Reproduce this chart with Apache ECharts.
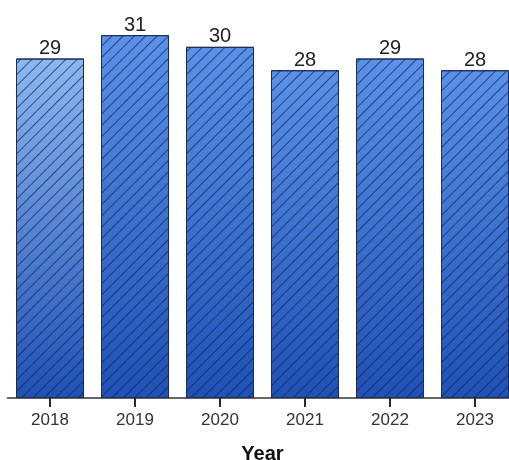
<!DOCTYPE html>
<html>
<head>
<meta charset="utf-8">
<style>
  html, body { margin: 0; padding: 0; background: #ffffff; }
  #chart { width: 509px; height: 460px; }
</style>
<script src="https://cdn.jsdelivr.net/npm/echarts@6/dist/echarts.min.js"></script>
</head>
<body>
<div id="chart"></div>
<script>
// Yearly values shown as hatched, gradient-filled bars
const years = ['2018', '2019', '2020', '2021', '2022', '2023'];
const values = [29, 31, 30, 28, 29, 28];
// top colour of each bar's vertical gradient
const topColors = ['#8db8f1', '#5b91e8', '#5b91e8', '#5b91e8', '#5b91e8', '#5b91e8'];
const bottomColor = '#1f51b6';

const chart = echarts.init(document.getElementById('chart'), null, { renderer: 'canvas' });

const barData = values.map((v, i) => ({
  value: v,
  itemStyle: {
    color: new echarts.graphic.LinearGradient(0, 0, 0, 1, [
      { offset: 0, color: topColors[i] },
      { offset: 1, color: bottomColor }
    ])
  }
}));

chart.setOption({
  animation: false,
  grid: {
    left: 7.5, width: 510, top: 0, height: 398,
    containLabel: false,
    outerBoundsMode: 'none'
  },
  xAxis: {
    type: 'category',
    data: years,
    name: 'Year',
    nameLocation: 'middle',
    nameGap: 46,
    nameTextStyle: { fontFamily: 'Liberation Sans', fontSize: 20, fontWeight: 'bold', color: '#111' },
    axisLine: { show: true, onZero: false, lineStyle: { color: '#333', width: 1.5 } },
    axisTick: {
      show: true, alignWithLabel: true, length: 9,
      lineStyle: { color: '#2a2a2a', width: 2, opacity: 1 }
    },
    axisLabel: { fontFamily: 'Liberation Sans', fontSize: 17, color: '#333', margin: 14 }
  },
  yAxis: {
    type: 'value',
    min: 0,
    max: 34,
    show: false
  },
  series: [{
    type: 'bar',
    data: barData,
    barCategoryGap: '20%',
    itemStyle: {
      borderColor: '#1b2d55',
      borderWidth: 1,
      decal: {
        symbol: 'rect',
        symbolSize: 1,
        dashArrayX: [1, 0],
        dashArrayY: [1, 7],
        rotation: -Math.PI / 4,
        color: 'rgba(15, 35, 80, 0.7)'
      }
    },
    label: {
      show: true,
      position: 'top',
      distance: 0,
      fontFamily: 'Liberation Sans',
      fontSize: 20,
      color: '#222'
    }
  }]
});
</script>
</body>
</html>
